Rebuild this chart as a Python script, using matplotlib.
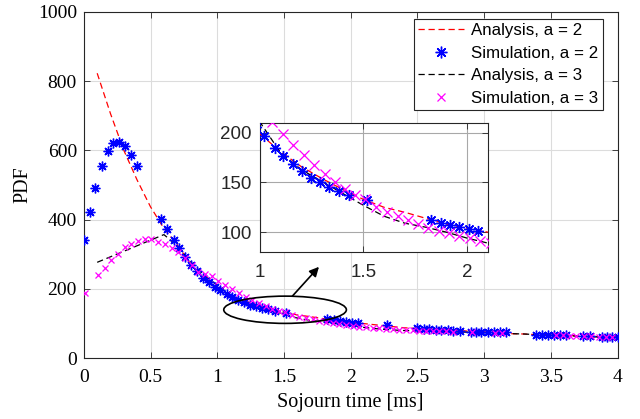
import matplotlib
matplotlib.use("Agg")
import matplotlib.pyplot as plt
from matplotlib.patches import Ellipse
import numpy as np

# analysis curves (sampled every 0.1 ms)
t_ana = [0.1, 0.2, 0.3, 0.4, 0.5, 0.6, 0.7, 0.8, 0.9, 1.0,
         1.1, 1.2, 1.3, 1.4, 1.5, 1.6, 1.7, 1.8, 1.9, 2.0,
         2.1, 2.2, 2.3, 2.4, 2.5, 2.6, 2.7, 2.8, 2.9, 3.0,
         3.1, 3.2, 3.3, 3.4, 3.5, 3.6, 3.7, 3.8, 3.9, 4.0]
pdf_ana_a2 = [823, 706, 600, 514, 437, 375, 328, 272, 231, 199,
              181, 166, 154, 143, 133, 125, 120, 114, 108, 104,
              100, 96, 92, 88, 86, 84, 82, 80, 78, 76,
              74, 71, 70, 68, 67, 66, 65, 63, 62, 61]
pdf_ana_a3 = [277, 293, 309, 325, 341, 357, 325, 279, 240, 211,
              180, 163, 151, 139, 127, 116, 109, 105, 100, 94,
              89, 85, 82, 80, 79, 78, 77, 76, 75, 74,
              73, 71, 70, 68, 66, 65, 64, 62, 61, 60]

# simulation, a = 2
t_sim_a2 = [0.0, 0.045, 0.085, 0.133, 0.178, 0.22, 0.265, 0.312, 0.357, 0.402,
            0.577, 0.624, 0.672, 0.715, 0.757, 0.802, 0.845, 0.89, 0.935, 0.98,
            1.019, 1.073, 1.11, 1.159, 1.202, 1.246, 1.291, 1.332, 1.38, 1.429,
            1.518, 1.825, 1.874, 1.919, 1.963, 2.011, 2.055, 2.27,
            2.50, 2.55, 2.59, 2.64, 2.68, 2.73, 2.77, 2.82,
            2.90, 2.94, 2.98, 3.03, 3.07, 3.12, 3.16,
            3.39, 3.43, 3.48, 3.52, 3.57, 3.61, 3.74, 3.79,
            3.88, 3.92, 3.96, 4.0]
pdf_sim_a2 = [341, 421, 493, 555, 598, 621, 625, 612, 587, 554,
              403, 372, 342, 317, 291, 270, 252, 233, 219, 206,
              197, 185, 177, 169, 162, 155, 150, 145, 141, 137,
              132, 112, 109, 107, 105, 103, 101, 96,
              86, 85, 84, 83, 82, 81, 80, 79,
              77, 77, 76, 76, 75, 75, 75,
              68, 67, 67, 67, 66, 66, 64, 63,
              61, 61, 60, 60]

# simulation, a = 3
t_sim_a3 = [0.008, 0.107, 0.157, 0.207, 0.256, 0.307, 0.357, 0.407, 0.457, 0.507,
            0.557, 0.607, 0.657, 0.707, 0.757, 0.807, 0.857, 0.907, 0.957, 1.007,
            1.057, 1.11, 1.162, 1.214, 1.262, 1.316, 1.364, 1.413, 1.461, 1.51,
            1.563, 1.615, 1.667, 1.715, 1.764, 1.812, 1.866, 1.914, 1.963, 2.016,
            2.065, 2.115, 2.165, 2.215, 2.265, 2.315, 2.365, 2.415, 2.465, 2.515,
            2.565, 2.615, 2.665, 2.715, 2.765, 2.91, 3.08, 3.13,
            3.54, 3.59, 3.64, 3.69, 3.75, 3.80, 3.86, 3.91, 3.96]
pdf_sim_a3 = [187, 240, 262, 285, 302, 320, 329, 339, 343, 343,
              336, 329, 317, 306, 289, 269, 250, 244, 238, 222,
              211, 199, 188, 178, 168, 159, 150, 143, 137, 133,
              125, 120, 116, 112, 108, 104, 101, 99, 96, 94,
              91, 89, 87, 86, 85, 84, 83, 82, 81, 80,
              79, 79, 78, 78, 77, 76, 74, 73,
              66, 66, 65, 65, 63, 63, 61, 61, 60]

x_ticks = [0, 0.5, 1, 1.5, 2, 2.5, 3, 3.5, 4]
y_ticks = [0, 200, 400, 600, 800, 1000]

AXC = "#262626"
GRIDC = "#dcdcdc"
asterisk = (8, 2, 0)
dash = (5, 3)


def draw_series(ax, ms_star, ms_x):
    ax.plot(t_ana, pdf_ana_a2, color="red", lw=0.9, dashes=dash,
            label="Analysis, a = 2", zorder=3)
    ax.plot(t_sim_a2, pdf_sim_a2, ls="none", marker=asterisk, ms=ms_star,
            mec="blue", mew=1.0, label="Simulation, a = 2", zorder=4)
    ax.plot(t_ana, pdf_ana_a3, color="black", lw=0.9, dashes=dash,
            label="Analysis, a = 3", zorder=3)
    ax.plot(t_sim_a3, pdf_sim_a3, ls="none", marker="x", ms=ms_x,
            mec="magenta", mew=0.9, label="Simulation, a = 3", zorder=4)


def style_axes(ax):
    for s in ax.spines.values():
        s.set_color(AXC)
        s.set_linewidth(0.8)
    ax.tick_params(direction="in", top=True, right=True, length=4,
                   width=0.6, color=AXC)
    ax.set_axisbelow(True)


fig = plt.figure(figsize=(6.4, 4.19), dpi=100)
ax = fig.add_axes([0.131, 0.145, 0.834, 0.8265])

draw_series(ax, 7, 5)
ax.set_xlim(0, 4)
ax.set_ylim(0, 1000)
ax.set_xticks(x_ticks)
ax.set_xticklabels(["0", "0.5", "1", "1.5", "2", "2.5", "3", "3.5", "4"])
ax.set_yticks(y_ticks)
ax.grid(True, color=GRIDC, lw=0.8)
style_axes(ax)
ax.tick_params(axis="x", pad=8)
ax.tick_params(axis="y", pad=5)
for lab in ax.get_xticklabels() + ax.get_yticklabels():
    lab.set_fontfamily("Liberation Serif")
    lab.set_fontsize(14)
ax.set_xlabel("Sojourn time [ms]", family="Liberation Serif", fontsize=14.5, labelpad=5)
ax.set_ylabel("PDF", family="Liberation Serif", fontsize=14.5, labelpad=4)

leg = ax.legend(loc="upper right", bbox_to_anchor=(0.9725, 0.98), borderaxespad=0,
                prop={"family": "Liberation Sans", "size": 12.2}, frameon=True,
                fancybox=False, edgecolor=AXC, framealpha=1, handlelength=2.7,
                handletextpad=0.45, labelspacing=0.45, borderpad=0.25,
                markerscale=1.2)
leg.get_frame().set_linewidth(0.8)

# zoom marker: ellipse and arrow
ell = Ellipse((1.508, 140), 0.919, 78.7, fill=False, ec="black", lw=1.2, zorder=6)
ax.add_patch(ell)
ax.annotate("", xy=(1.762, 264), xytext=(1.563, 179.5),
            arrowprops=dict(arrowstyle="-|>", color="black", lw=1.2,
                            mutation_scale=14, shrinkA=0, shrinkB=0), zorder=6)

# inset
axin = fig.add_axes([0.406, 0.3986, 0.356, 0.308])
draw_series(axin, 8, 6.5)
axin.set_xlim(1, 2.1)
axin.set_ylim(80, 210)
axin.set_xticks([1, 1.5, 2])
axin.set_xticklabels(["1", "1.5", "2"])
axin.set_yticks([100, 150, 200])
axin.grid(True, color="#a8a8a8", lw=0.8)
style_axes(axin)
axin.tick_params(labelsize=13.5, labelcolor=AXC, pad=6)
axin.tick_params(axis="x", pad=9)
for lab in axin.get_xticklabels() + axin.get_yticklabels():
    lab.set_fontfamily("Liberation Sans")

fig.savefig("out.png", dpi=100)
